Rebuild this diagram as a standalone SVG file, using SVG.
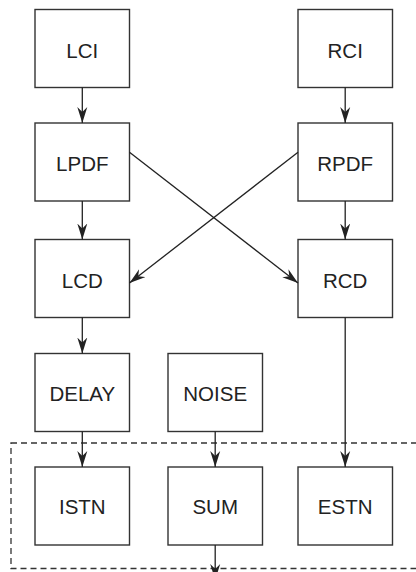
<svg xmlns="http://www.w3.org/2000/svg" width="416" height="572" viewBox="0 0 416 572">
  <defs>
    <marker id="arrow" markerUnits="userSpaceOnUse" markerWidth="18" markerHeight="12" viewBox="0 -6 18 12" refX="16" refY="0" orient="auto">
      <path d="M0,-5 L16,0 L0,5 L5,0 Z" fill="#222"/>
    </marker>
  </defs>
  <style>
    .box { fill: #fff; stroke: #333; stroke-width: 1.4; }
    .lbl { font-family: "Liberation Sans", Arial, sans-serif; font-size: 20.5px; fill: #222; text-anchor: middle; }
    .edge { fill: none; stroke: #222; stroke-width: 1.3; }
    .group { fill: none; stroke: #333; stroke-width: 1.3; stroke-dasharray: 6 4; }
  </style>
  <rect width="416" height="572" fill="#fff"/>

  <!-- dashed enclosure around the output stage -->
  <rect class="group" x="11" y="443" width="410" height="125.5"/>

  <g id="LCI"><rect class="box" x="35" y="9.5" width="94.5" height="78"/><text class="lbl" x="82.3" y="57.5">LCI</text></g>
  <g id="RCI"><rect class="box" x="298" y="9.5" width="94.5" height="78"/><text class="lbl" x="345.2" y="57.5">RCI</text></g>
  <g id="LPDF"><rect class="box" x="35" y="123" width="94.5" height="78"/><text class="lbl" x="82.3" y="171">LPDF</text></g>
  <g id="RPDF"><rect class="box" x="298" y="123" width="94.5" height="78"/><text class="lbl" x="345.2" y="171">RPDF</text></g>
  <g id="LCD"><rect class="box" x="35" y="239.5" width="94.5" height="78"/><text class="lbl" x="82.3" y="288">LCD</text></g>
  <g id="RCD"><rect class="box" x="298" y="239.5" width="94.5" height="78"/><text class="lbl" x="345.2" y="288">RCD</text></g>
  <g id="DELAY"><rect class="box" x="35" y="353.5" width="94.5" height="78"/><text class="lbl" x="82.3" y="401">DELAY</text></g>
  <g id="NOISE"><rect class="box" x="168" y="353.5" width="94.5" height="78"/><text class="lbl" x="215.2" y="401">NOISE</text></g>
  <g id="ISTN"><rect class="box" x="35" y="467" width="94.5" height="78"/><text class="lbl" x="82.3" y="514">ISTN</text></g>
  <g id="SUM"><rect class="box" x="168" y="467" width="94.5" height="78"/><text class="lbl" x="215.2" y="514">SUM</text></g>
  <g id="ESTN"><rect class="box" x="298" y="467" width="94.5" height="78"/><text class="lbl" x="345.2" y="514">ESTN</text></g>

  <g id="connectors">
    <line class="edge" x1="82.3" y1="87.5" x2="82.3" y2="123" marker-end="url(#arrow)"/>
    <line class="edge" x1="345.2" y1="87.5" x2="345.2" y2="123" marker-end="url(#arrow)"/>
    <line class="edge" x1="82.3" y1="201" x2="82.3" y2="239.5" marker-end="url(#arrow)"/>
    <line class="edge" x1="345.2" y1="201" x2="345.2" y2="239.5" marker-end="url(#arrow)"/>
    <line class="edge" x1="129.5" y1="152.3" x2="298" y2="283" marker-end="url(#arrow)"/>
    <line class="edge" x1="298" y1="152.3" x2="129.5" y2="283" marker-end="url(#arrow)"/>
    <line class="edge" x1="82.3" y1="317.5" x2="82.3" y2="353.5" marker-end="url(#arrow)"/>
    <line class="edge" x1="82.3" y1="431.5" x2="82.3" y2="467" marker-end="url(#arrow)"/>
    <line class="edge" x1="215.2" y1="431.5" x2="215.2" y2="467" marker-end="url(#arrow)"/>
    <line class="edge" x1="345.2" y1="317.5" x2="345.2" y2="467" marker-end="url(#arrow)"/>
    <line class="edge" x1="215.2" y1="545" x2="215.2" y2="580" marker-end="url(#arrow)"/>
  </g>
</svg>
